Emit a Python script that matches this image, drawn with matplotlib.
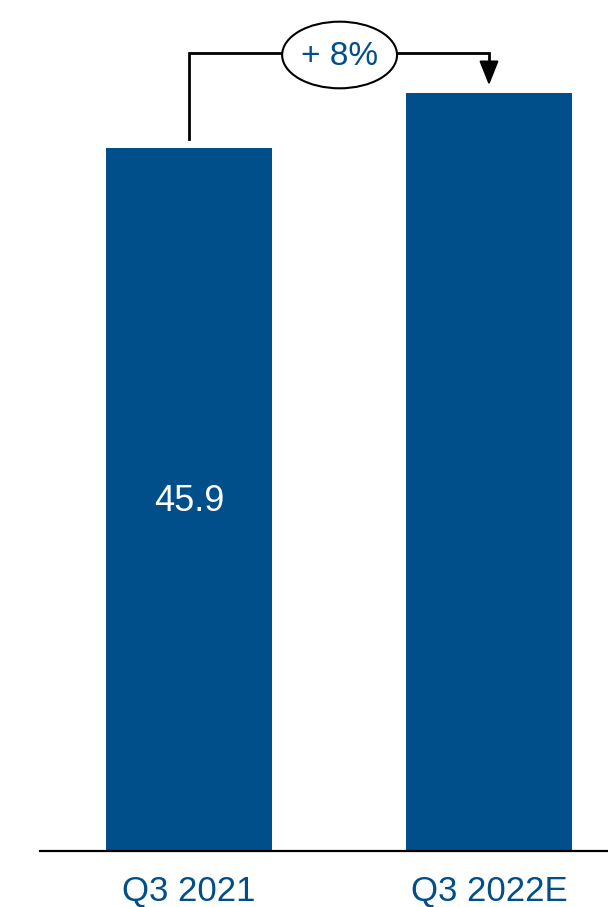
import matplotlib
matplotlib.use("Agg")
import matplotlib.pyplot as plt
from matplotlib.patches import Ellipse

categories = ["Q3 2021", "Q3 2022E"]
values = [45.9, 49.5]
value_labels = ["45.9", None]
growth_label = "+ 8%"

BLUE = "#004E8A"
plt.rcParams["font.family"] = ["Liberation Sans", "DejaVu Sans"]

fig = plt.figure(figsize=(6.08, 9.07), dpi=100)
ax = fig.add_axes([0, 1 - 851 / 907, 1, 851 / 907])

x = list(range(len(categories)))
ax.bar(x, values, width=0.553, color=BLUE, zorder=2)

ax.set_xlim(-0.63, 1.3967)
ax.set_ylim(0, 55.56)

# baseline
ax.axhline(0, xmin=40 / 608, xmax=1, color="black", lw=1.6, zorder=3, clip_on=False)

for xi, v, lab in zip(x, values, value_labels):
    if lab:
        ax.text(xi, v / 2 - 0.15, lab, ha="center", va="center", color="white", fontsize=26)

ax.set_xticks(x)
ax.set_xticklabels(categories, fontsize=25, color=BLUE)
ax.tick_params(axis="x", length=0, pad=17)
ax.set_yticks([])
for s in ax.spines.values():
    s.set_visible(False)

# growth bracket
top = 52.12
ax.plot([x[0], x[0], x[1], x[1]], [values[0] + 0.6, top, top, values[1] + 1.6],
        color="black", lw=2, solid_joinstyle="miter", zorder=3, clip_on=False)
ax.annotate("", xy=(x[1], values[1] + 0.5), xytext=(x[1], values[1] + 1.7),
            arrowprops=dict(arrowstyle="-|>,head_length=0.5,head_width=0.2",
                            color="black", lw=1.5,
                            mutation_scale=30, shrinkA=0, shrinkB=0))
ell = Ellipse((0.502, 51.97), width=0.383, height=4.35, facecolor="white",
              edgecolor="black", lw=1.5, zorder=4, clip_on=False)
ax.add_patch(ell)
ax.text(0.502, 51.85, growth_label, ha="center", va="center", color=BLUE,
        fontsize=24, zorder=5)

fig.savefig("out.png", dpi=100)
